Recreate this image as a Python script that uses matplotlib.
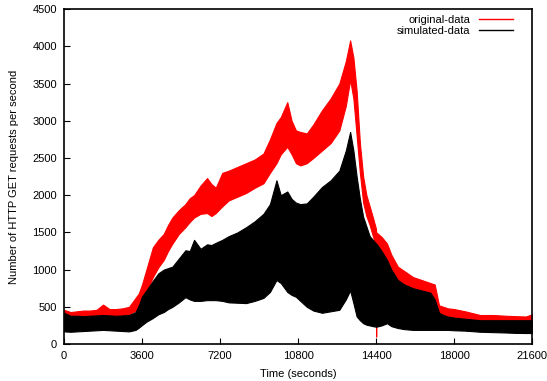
import matplotlib
matplotlib.use('Agg')
import matplotlib.pyplot as plt
import numpy as np

plt.rcParams['font.family'] = ['Liberation Sans', 'DejaVu Sans']

# sample times (seconds) and envelope values
t = [0, 300, 600, 900, 1200, 1500, 1800, 2100, 2400, 2700, 3000, 3300,
     3450, 3600, 3800, 4100, 4350, 4600, 4800, 5000, 5300, 5600, 5800,
     6000, 6300, 6600, 6800, 7000, 7300, 7600, 8000, 8400, 8800, 9200,
     9500, 9800, 10000, 10300, 10500, 10700, 10900, 11200, 11500, 11900,
     12300, 12700, 13000, 13200, 13350, 13500, 13650, 13800, 13950, 14100,
     14250, 14390, 14400, 14410, 14650, 14900, 15100, 15400, 15700, 16100,
     16500, 16900, 17100, 17300, 17500, 17700, 18000, 18500, 19200, 19800,
     20400, 20800, 21300, 21600]

# original-data (red): lower and upper edge of the noisy trace
orig_lo = [370, 350, 360, 370, 370, 380, 380, 380, 380, 390, 400, 450,
           500, 560, 700, 900, 1030, 1130, 1250, 1350, 1480, 1570, 1640,
           1700, 1750, 1760, 1720, 1760, 1850, 1930, 1980, 2030, 2100, 2160,
           2300, 2430, 2550, 2650, 2550, 2430, 2400, 2430, 2500, 2600,
           2700, 2870, 3200, 3550, 3300, 2800, 2300, 1900, 1720, 1600,
           1450, 1300, 100, 1300, 1220, 1150, 1000, 860, 800, 750,
           700, 660, 600, 420, 380, 350, 340, 320, 300, 295,
           290, 285, 280, 330]
orig_hi = [460, 430, 440, 450, 450, 460, 530, 470, 470, 480, 500, 620,
           680, 800, 1000, 1300, 1400, 1480, 1600, 1700, 1800, 1880, 1960,
           2000, 2130, 2230, 2150, 2100, 2300, 2330, 2380, 2430, 2480, 2560,
           2750, 2970, 3050, 3250, 3000, 2870, 2850, 2830, 2950, 3140,
           3300, 3500, 3800, 4080, 3850, 3400, 2700, 2250, 2000, 1850,
           1700, 1550, 1500, 1500, 1440, 1350, 1200, 1040, 980, 900,
           860, 820, 800, 520, 500, 480, 470, 440, 390, 390,
           380, 375, 370, 400]

# simulated-data (black): lower and upper edge
sim_lo = [170, 165, 170, 175, 180, 185, 190, 185, 180, 175, 170, 190,
          220, 255, 300, 350, 400, 430, 470, 500, 560, 630, 600,
          580, 580, 590, 590, 590, 580, 560, 555, 550, 580, 620,
          700, 860, 820, 700, 660, 635, 580, 500, 450, 420,
          440, 460, 600, 720, 550, 370, 320, 280, 260, 250,
          240, 233, 233, 233, 250, 280, 240, 215, 200, 190,
          190, 190, 190, 190, 190, 190, 185, 180, 165, 160,
          155, 150, 148, 148]
sim_hi = [420, 380, 380, 375, 380, 385, 390, 385, 380, 385, 390, 430,
          520, 640, 720, 850, 950, 1000, 1020, 1040, 1150, 1260, 1250,
          1400, 1280, 1340, 1330, 1360, 1400, 1450, 1500, 1570, 1650, 1750,
          1880, 2200, 2000, 2050, 1950, 1900, 1880, 1890, 1980, 2110,
          2200, 2330, 2600, 2850, 2600, 2250, 1950, 1710, 1580, 1450,
          1400, 1350, 1350, 1350, 1250, 1130, 1000, 860, 800, 750,
          720, 690, 600, 420, 390, 370, 355, 340, 320, 320,
          320, 320, 320, 320]

xticks = [0, 3600, 7200, 10800, 14400, 18000, 21600]
yticks = [0, 500, 1000, 1500, 2000, 2500, 3000, 3500, 4000, 4500]

fig = plt.figure(figsize=(5.47, 3.81), dpi=100)
ax = fig.add_axes([0.117, 0.097, 0.856, 0.879])

ax.fill_between(t, orig_lo, orig_hi, color='#ff0000', linewidth=0.8, edgecolor='#ff0000')
ax.fill_between(t, sim_lo, sim_hi, color='black', linewidth=0.8, edgecolor='black')

# legend samples
ax.plot([], [], color='#ff0000', lw=1, label='original-data')
ax.plot([], [], color='black', lw=1, label='simulated-data')
leg = ax.legend(loc='upper right', frameon=False, fontsize=8, markerfirst=False,
                handlelength=3.0, handletextpad=0.8, labelspacing=0.05,
                borderaxespad=0.3, bbox_to_anchor=(0.975, 1.005))
for txt in leg.get_texts():
    txt.set_ha('right')

ax.set_xlim(0, 21600)
ax.set_ylim(0, 4500)
ax.set_xticks(xticks)
ax.set_yticks(yticks)
ax.tick_params(direction='in', length=4, width=0.8, labelsize=8, colors='black',
               top=False, right=False, pad=5)
for s in ax.spines.values():
    s.set_linewidth(1.2)

ax.set_xlabel('Time (seconds)', fontsize=8, labelpad=6)
ax.set_ylabel('Number of HTTP GET requests per second', fontsize=8, labelpad=10)

fig.savefig('out.png', dpi=100)
